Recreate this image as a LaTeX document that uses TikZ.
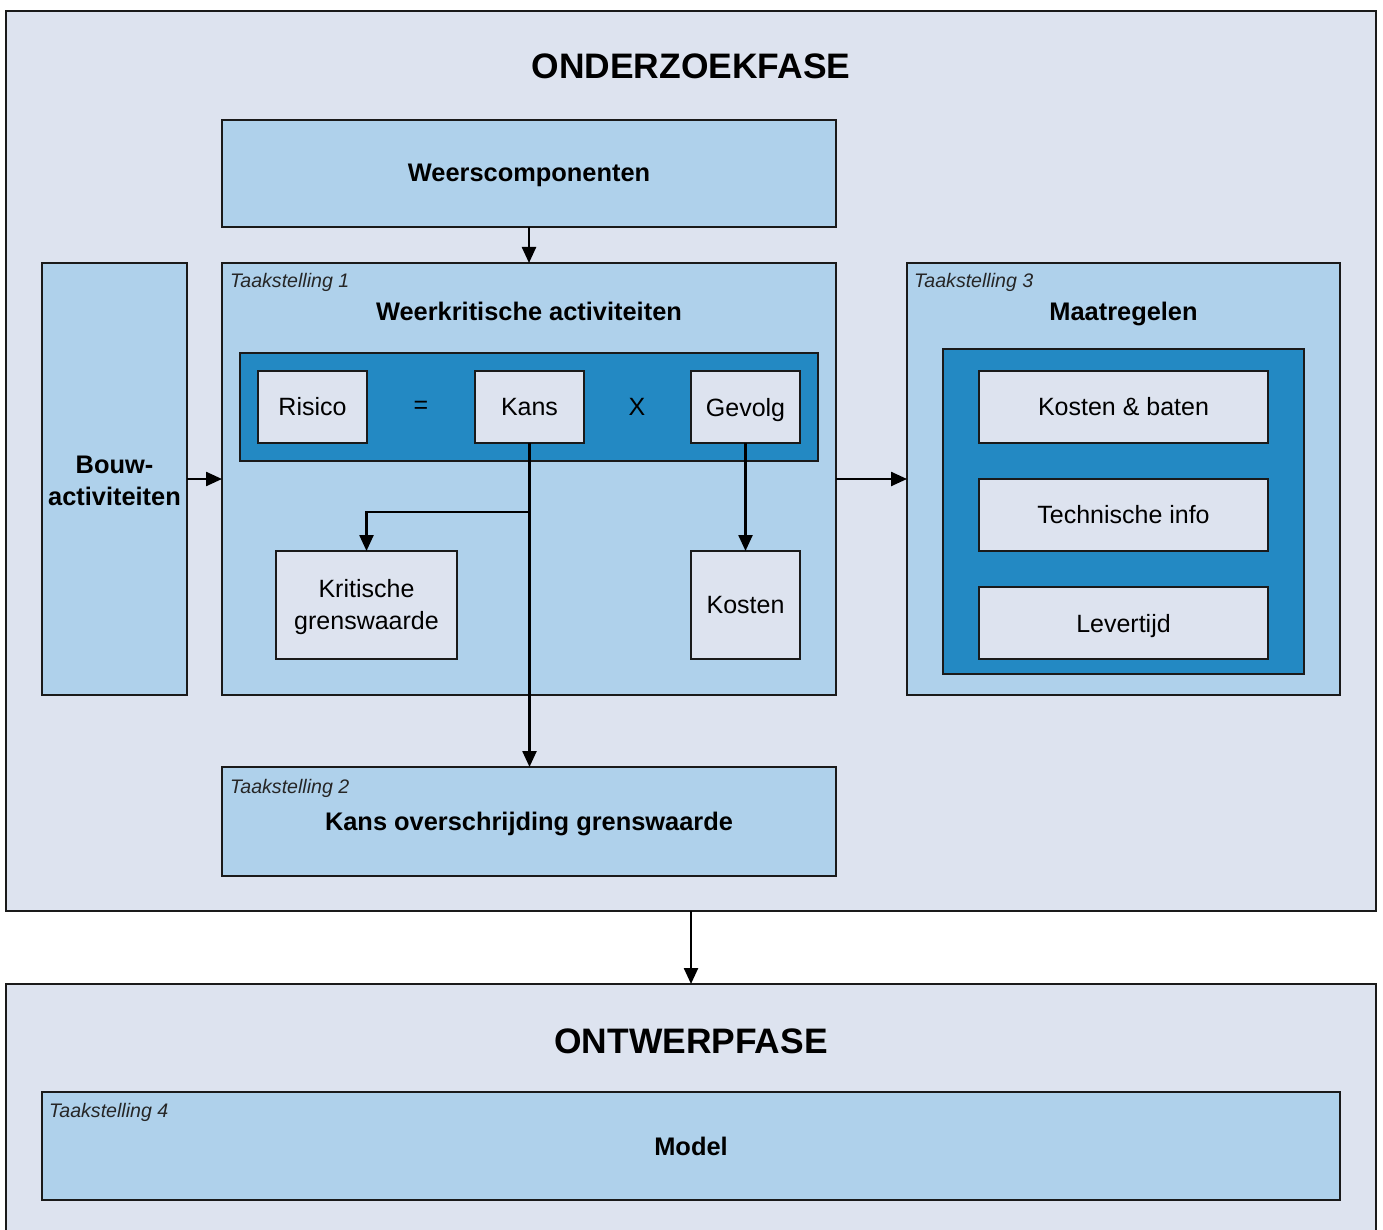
\documentclass[tikz,border=0pt]{standalone}
\usepackage{fontspec}
\setmainfont{Liberation Sans}
\usetikzlibrary{arrows.meta}
\definecolor{bgpale}{HTML}{DDE3EF}
\definecolor{lblue}{HTML}{AFD1EB}
\definecolor{dblue}{HTML}{2389C3}
\definecolor{edge}{HTML}{1A1A1A}
\tikzset{
  rbox/.style={draw=edge, line width=2.4pt, inner sep=0pt, outer sep=0pt},
  pale/.style={rbox, fill=bgpale},
  light/.style={rbox, fill=lblue},
  dark/.style={rbox, fill=dblue},
  txt/.style={font=\fontsize{25}{30}\selectfont, text=black, inner sep=0pt},
  btxt/.style={font=\bfseries\fontsize{25.4}{30}\selectfont, text=black, inner sep=0pt, anchor=base},
  htxt/.style={font=\bfseries\fontsize{35.4}{40}\selectfont, text=black, inner sep=0pt, anchor=base},
  ltxt/.style={font=\itshape\fontsize{19.6}{22}\selectfont, text=black!85, inner sep=0pt, anchor=base west},
  arr/.style={draw=black, line width=2.4pt, -{Triangle[length=16pt,width=14pt]}},
}
\newcommand{\bx}[6]{\node[#2, minimum width={#5-#3}, minimum height={#6-#4}] (#1) at ({(#3+#5)/2},{(#4+#6)/2}) {};}
\begin{document}
\begin{tikzpicture}[x=1pt,y=-1pt]
\useasboundingbox (0,0) rectangle (1383,1230);
\fill[white] (0,0) rectangle (1383,1230);
\clip (0,0) rectangle (1383,1230);
% outer boxes
\bx{o1}{pale}{6}{11}{1376}{911}
\bx{o2}{pale}{6}{984}{1376}{1250}
\node[htxt] (h1) at (691,79) {ONDERZOEKFASE};
\node[htxt] (h2) at (691,1053) {ONTWERPFASE};
% top
\bx{weer}{light}{222}{120}{836}{227}
\node[btxt] (weert) at (529,181.5) {Weerscomponenten};
\bx{bouw}{light}{42}{263}{187}{695}
\node[txt, align=center, font=\bfseries\fontsize{25.4}{32.5}\selectfont] (bouwt) at (114.5,481) {Bouw-\\activiteiten};
% taakstelling 1
\bx{t1}{light}{222}{263}{836}{695}
\node[ltxt] (t1l) at (230,288) {Taakstelling 1};
\node[btxt] (t1t) at (529,320) {Weerkritische activiteiten};
\bx{band1}{dark}{240}{353}{818}{461}
\bx{ris}{pale}{258}{371}{367}{443}
\node[txt] (rist) at (ris) {Risico};
\node[txt] (eq) at (421,407) {=};
\bx{kans}{pale}{475}{371}{584}{443}
\node[txt] (kanst) at (kans) {Kans};
\node[txt] (mul) at (637,407) {X};
\bx{gev}{pale}{691}{371}{800}{443}
\node[txt, anchor=base] (gevt) at (745.5,416) {Gevolg};
\bx{krit}{pale}{276}{551}{457}{659}
\node[txt, align=center, font=\fontsize{25}{32}\selectfont] (kritt) at (366.5,607) {Kritische\\grenswaarde};
\bx{kost}{pale}{691}{551}{800}{659}
\node[txt] (kostt) at (kost) {Kosten};
% taakstelling 2
\bx{t2}{light}{222}{767}{836}{876}
\node[ltxt] (t2l) at (230,793) {Taakstelling 2};
\node[btxt] (t2t) at (529,830) {Kans overschrijding grenswaarde};
% taakstelling 3
\bx{t3}{light}{907}{263}{1340}{695}
\node[ltxt] (t3l) at (914,288) {Taakstelling 3};
\node[btxt] (t3t) at (1123.5,320) {Maatregelen};
\bx{band3}{dark}{943}{349}{1304}{674}
\bx{kb}{pale}{979}{371}{1268}{443}
\node[txt] (kbt) at (kb) {Kosten \& baten};
\bx{ti}{pale}{979}{479}{1268}{551}
\node[txt] (tit) at (ti) {Technische info};
\bx{lev}{pale}{979}{587}{1268}{659}
\node[txt, anchor=base] (levt) at (1123.5,632) {Levertijd};
% taakstelling 4
\bx{t4}{light}{42}{1092}{1340}{1200}
\node[ltxt] (t4l) at (49,1117) {Taakstelling 4};
\node[btxt] (t4t) at (691,1155) {Model};
% connectors
\draw[arr] (weer.south) -- (t1.north);
\draw[arr] (bouw.east) -- (bouw.east -| t1.west);
\draw[arr] (t1.east |- bouw.east) -- (t3.west |- bouw.east);
\draw[arr] (kans.south) -- (kans.south |- t2.north);
\coordinate (br) at (kans.south |- 0,512);
\draw[arr] (br) -| (krit.north);
\draw[arr] (gev.south) -- (kost.north);
\draw[arr] (o1.south) -- (o2.north);
\end{tikzpicture}
\end{document}
